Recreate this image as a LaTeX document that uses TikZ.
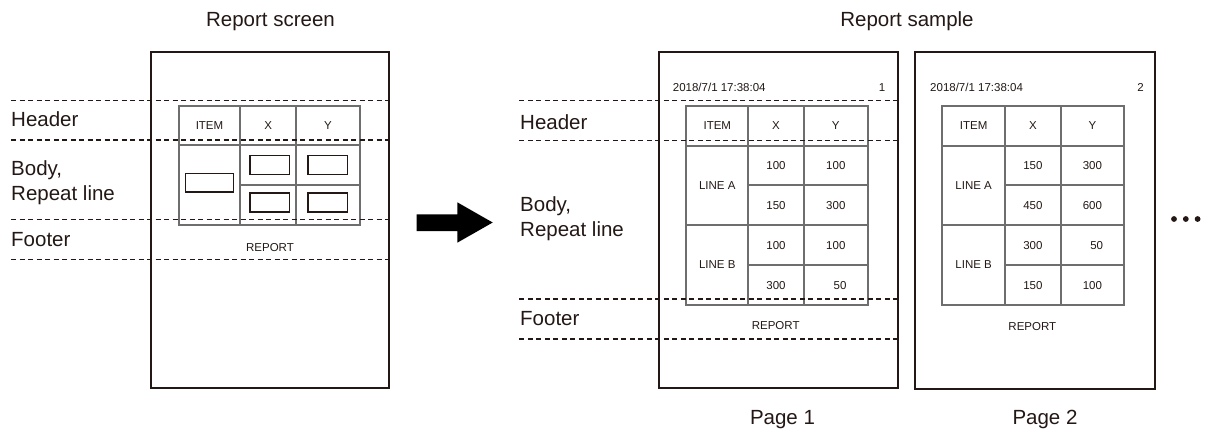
\documentclass[tikz,border=0pt]{standalone}
\usepackage{fontspec}
\setmainfont{Liberation Sans}
\definecolor{ink}{HTML}{231815}
\definecolor{tgray}{HTML}{6E6E6E}
\begin{document}
\begin{tikzpicture}[x=1pt,y=-1pt,
  pagebox/.style={draw=ink, line width=1.8, inner sep=0, minimum width=238, minimum height=336.5},
  tablebox/.style={draw=tgray, line width=1.8, inner sep=0},
  tline/.style={draw=tgray, line width=1.8},
  dashline/.style={draw=ink, line width=1.3, dash pattern=on 5 off 3.5},
  big/.style={font=\fontsize{20.5}{25}\selectfont, inner sep=0, text=ink},
  small/.style={font=\fontsize{11.5}{13}\selectfont, inner sep=0, text=ink},
  fld/.style={draw=ink, line width=1.4, inner sep=0, minimum width=39.7, minimum height=19},
  dot/.style={circle, fill=ink, inner sep=0, minimum size=5.8}
]
\useasboundingbox (0,0) rectangle (1207,432);

% ---------------- Left: report screen ----------------
\node[big, anchor=base] (t0) at (270.5,26.5) {Report screen};
\node[pagebox] (p0) at (270,220) {};
\node[tablebox, minimum width=181.3, minimum height=119.6] (tb0) at (269.35,165.5) {};
\coordinate (c0a) at (240.3,105.7);
\coordinate (c0b) at (296.3,105.7);
\draw[tline] (c0a) -- (240.3,225.3);
\draw[tline] (c0b) -- (296.3,225.3);
\draw[tline] (178.7,145.3) -- (360,145.3);
\draw[tline] (240.3,185.3) -- (360,185.3);
\node[small] (h0a) at (209.5,125.5) {ITEM};
\node[small] (h0b) at (268.3,125.5) {X};
\node[small] (h0c) at (328,125.5) {Y};
\node[fld, minimum width=47.6, minimum height=18.7] (f0) at (209.5,182.7) {};
\node[fld] (f1) at (269.9,165.2) {};
\node[fld] (f2) at (269.9,202.5) {};
\node[fld] (f3) at (327.9,165.2) {};
\node[fld] (f4) at (327.9,202.5) {};
\node[small] (r0) at (270,247.7) {REPORT};
\draw[dashline] (11,100.3) -- (389,100.3);
\draw[dashline] (11,140) -- (389,140);
\draw[dashline] (11,219.7) -- (389,219.7);
\draw[dashline] (11,259.3) -- (389,259.3);
\node[big, anchor=base west] (lh0) at (11,126.5) {Header};
\node[big, anchor=base west] (lb0) at (11,175) {Body,};
\node[big, anchor=base west] (lr0) at (11,200) {Repeat line};
\node[big, anchor=base west] (lf0) at (11,246) {Footer};

% ---------------- Arrow ----------------
\fill[black] (416.7,214.3) -- (457.3,214.3) -- (457.3,202.3) -- (492.7,222.5)
  -- (457.3,242.7) -- (457.3,231) -- (416.7,231) -- cycle;

% ---------------- Page 1 ----------------
\node[big, anchor=base] (t1) at (907,26.5) {Report sample};
\node[pagebox, minimum width=239.3] (p1) at (778.65,220) {};
\node[small, anchor=base west] (dt1) at (672.7,91) {2018/7/1 17:38:04};
\node[small, anchor=base east] (pn1) at (885.5,91) {1};
\node[tablebox, minimum width=181.4, minimum height=199] (tb1) at (777,205.2) {};
\draw[tline] (748.3,105.7) -- (748.3,304.7);
\draw[tline] (804,105.7) -- (804,304.7);
\draw[tline] (686.3,145.7) -- (867.7,145.7);
\draw[tline] (748.3,185.3) -- (867.7,185.3);
\draw[tline] (686.3,225) -- (867.7,225);
\draw[tline] (748.3,265) -- (867.7,265);
\node[small] (a1) at (717.3,125.7) {ITEM};
\node[small] (a2) at (776,125.7) {X};
\node[small] (a3) at (835.8,125.7) {Y};
\node[small] (a4) at (717.3,185.5) {LINE A};
\node[small] (a5) at (717.3,265) {LINE B};
\node[small] (a6) at (776,165.7) {100};
\node[small] (a7) at (835.8,165.7) {100};
\node[small] (a8) at (776,205.5) {150};
\node[small] (a9) at (835.8,205.5) {300};
\node[small] (a10) at (776,245.3) {100};
\node[small] (a11) at (835.8,245.3) {100};
\node[small] (a12) at (776,285.2) {300};
\node[small] (a13) at (840,285.2) {50};
\node[small] (r1) at (775.7,326) {REPORT};
\draw[dashline] (519.3,100.7) -- (898.3,100.7);
\draw[dashline] (519.3,140.3) -- (898.3,140.3);
\draw[dashline] (519.3,299) -- (898.3,299);
\draw[dashline] (519.3,339) -- (898.3,339);
\node[big, anchor=base west] (lh1) at (520,129) {Header};
\node[big, anchor=base west] (lb1) at (520,211.7) {Body,};
\node[big, anchor=base west] (lr1) at (520,236.7) {Repeat line};
\node[big, anchor=base west] (lf1) at (520,325) {Footer};
\node[big, anchor=base] (pg1) at (782.5,424) {Page 1};

% ---------------- Page 2 ----------------
\node[pagebox, minimum width=240, minimum height=337] (p2) at (1035.3,220.2) {};
\node[small, anchor=base west] (dt2) at (930,91) {2018/7/1 17:38:04};
\node[small, anchor=base east] (pn2) at (1144,91) {2};
\node[tablebox, minimum width=181.7, minimum height=199] (tb2) at (1033.15,205.2) {};
\draw[tline] (1005,105.7) -- (1005,304.7);
\draw[tline] (1060.7,105.7) -- (1060.7,304.7);
\draw[tline] (942.3,145.7) -- (1124,145.7);
\draw[tline] (1005,185.3) -- (1124,185.3);
\draw[tline] (942.3,225) -- (1124,225);
\draw[tline] (1005,265) -- (1124,265);
\node[small] (b1) at (973.7,125.7) {ITEM};
\node[small] (b2) at (1032.9,125.7) {X};
\node[small] (b3) at (1092.4,125.7) {Y};
\node[small] (b4) at (973.7,185.5) {LINE A};
\node[small] (b5) at (973.7,265) {LINE B};
\node[small] (b6) at (1032.9,165.7) {150};
\node[small] (b7) at (1092.4,165.7) {300};
\node[small] (b8) at (1032.9,205.5) {450};
\node[small] (b9) at (1092.4,205.5) {600};
\node[small] (b10) at (1032.9,245.3) {300};
\node[small] (b11) at (1096.7,245.3) {50};
\node[small] (b12) at (1032.9,285.2) {150};
\node[small] (b13) at (1092.4,285.2) {100};
\node[small] (r2) at (1032.3,326.7) {REPORT};
\node[big, anchor=base] (pg2) at (1045,424) {Page 2};

% ---------------- Ellipsis ----------------
\node[dot] (d1) at (1174,219) {};
\node[dot] (d2) at (1185.8,219) {};
\node[dot] (d3) at (1197.6,219) {};
\end{tikzpicture}
\end{document}
